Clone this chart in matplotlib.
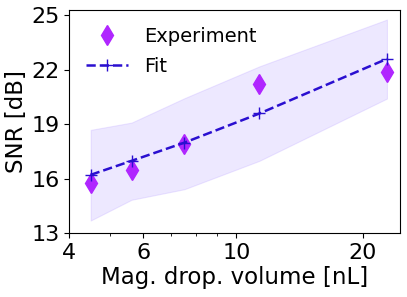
import matplotlib
matplotlib.use("Agg")
import matplotlib.pyplot as plt
from matplotlib.ticker import FixedLocator, FixedFormatter, NullFormatter

volume = [4.5, 5.63, 7.52, 11.34, 22.8]
snr_exp = [15.76, 16.49, 17.90, 21.21, 21.85]
snr_fit = [16.22, 16.99, 17.99, 19.59, 22.59]
band_low = [13.71, 14.85, 15.43, 16.99, 20.41]
band_high = [18.69, 19.09, 20.43, 22.18, 24.75]
xticks = [4, 6, 10, 20]
yticks = [13, 16, 19, 22, 25]

fig = plt.figure(figsize=(4.07, 2.97), dpi=100)
ax = fig.add_axes([0.170, 0.214, 0.813, 0.752])

ax.fill_between(volume, band_low, band_high, color='#9470ff', alpha=0.16, linewidth=0.8)
ax.plot(volume, snr_exp, linestyle='none', marker='d', color='#b026ff', markersize=10, label='Experiment')
ax.plot(volume, snr_fit, linestyle='--', marker='+', color='#2a0fd0', markersize=9, linewidth=1.8, label='Fit')

ax.set_xscale('log')
ax.set_xlim(4, 24.5)
ax.set_ylim(13, 25.27)
ax.xaxis.set_major_locator(FixedLocator(xticks))
ax.xaxis.set_major_formatter(FixedFormatter([str(t) for t in xticks]))
ax.xaxis.set_minor_formatter(NullFormatter())
ax.set_yticks(yticks)
ax.tick_params(axis='both', which='major', labelsize=16)
ax.set_xlabel('Mag. drop. volume [nL]', fontsize=16.5, labelpad=2)
ax.set_ylabel('SNR [dB]', fontsize=16.5, labelpad=2)
ax.legend(loc='upper left', frameon=False, fontsize=14, handlelength=2.2,
          borderaxespad=0.45, labelspacing=0.6)

fig.savefig('out.png', dpi=100)
